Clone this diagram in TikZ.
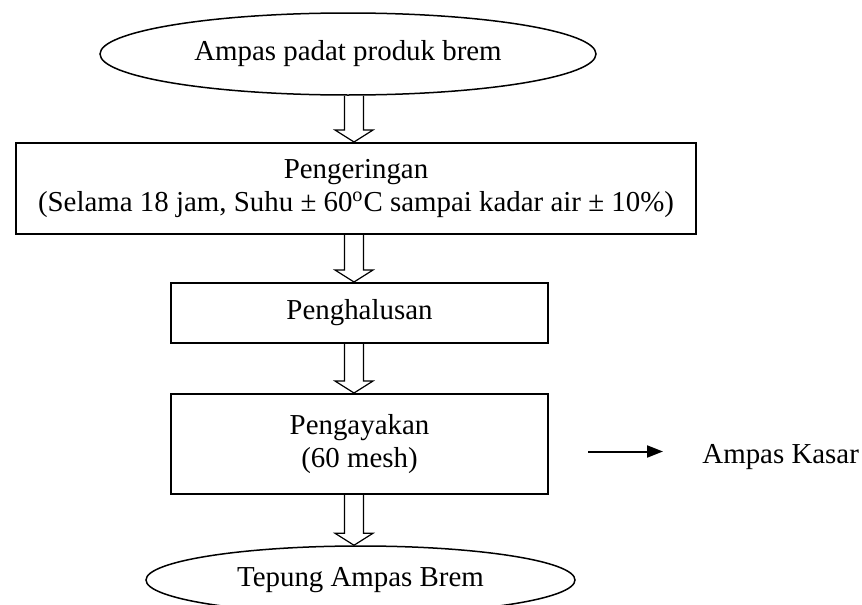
\documentclass[tikz,border=0pt]{standalone}
\usepackage{fontspec}
\setmainfont{Liberation Serif}
\usetikzlibrary{shapes.geometric,arrows.meta,calc}

\newcommand{\flowfont}{\fontsize{14.45pt}{16.6pt}\selectfont}
\tikzset{
    startstop/.style={draw, ellipse, line width=0.75pt, inner sep=0pt, font=\flowfont},
    procbox/.style={draw, rectangle, line width=1pt, inner sep=0pt, align=center, font=\flowfont},
    hollowarrow/.style={draw, line width=0.6pt, line join=miter},
    sidearrow/.style={line width=1pt, -{Triangle[length=8pt,width=6pt]}},
}
\newcommand{\blockarrow}[2]{%
    \draw[hollowarrow] let \p1=(#1.south -| ax), \p2=(#2.north -| ax) in
        (\x1-4.75pt,\y1) -- (\x1-4.75pt,\y2+6pt) -- (\x1-9.5pt,\y2+6pt) -- (\x1,\y2)
        -- (\x1+9.5pt,\y2+6pt) -- (\x1+4.75pt,\y2+6pt) -- (\x1+4.75pt,\y1);
}

\begin{document}
\begin{tikzpicture}[x=0.5pt, y=-0.5pt]
        \useasboundingbox (0,0) rectangle (862,605);
        \coordinate (ax) at (354,0);

        \node[startstop, minimum width=248pt, minimum height=41pt] (top) at (348,54) {Ampas padat produk brem};
        \node[procbox, minimum width=340pt, minimum height=45.5pt] (dry) at (356,188.5)
            {Pengeringan\\(Selama 18 jam, Suhu ± 60\textsuperscript{o}C sampai kadar air ± 10\%)};
        \node[procbox, minimum width=188.5pt, minimum height=30pt] (halus) at (359.5,313) {Penghalusan};
        \node[procbox, minimum width=188.5pt, minimum height=50pt] (ayak) at (359.5,444) {Pengayakan\\(60 mesh)};
        \node[startstop, minimum width=214.5pt, minimum height=34pt] (hasil) at (360.5,580) {Tepung Ampas Brem};
        \node[font=\flowfont, inner sep=0pt, anchor=base west] (kasar) at (702,463) {Ampas Kasar};

        \foreach \a/\b in {top/dry, dry/halus, halus/ayak, ayak/hasil} {
            \blockarrow{\a}{\b}
        }

        \draw[sidearrow] ([shift={(39,7.5)}]ayak.east) -- ([shift={(-39,7.5)}]ayak.east -| kasar.west);
\end{tikzpicture}
\end{document}
